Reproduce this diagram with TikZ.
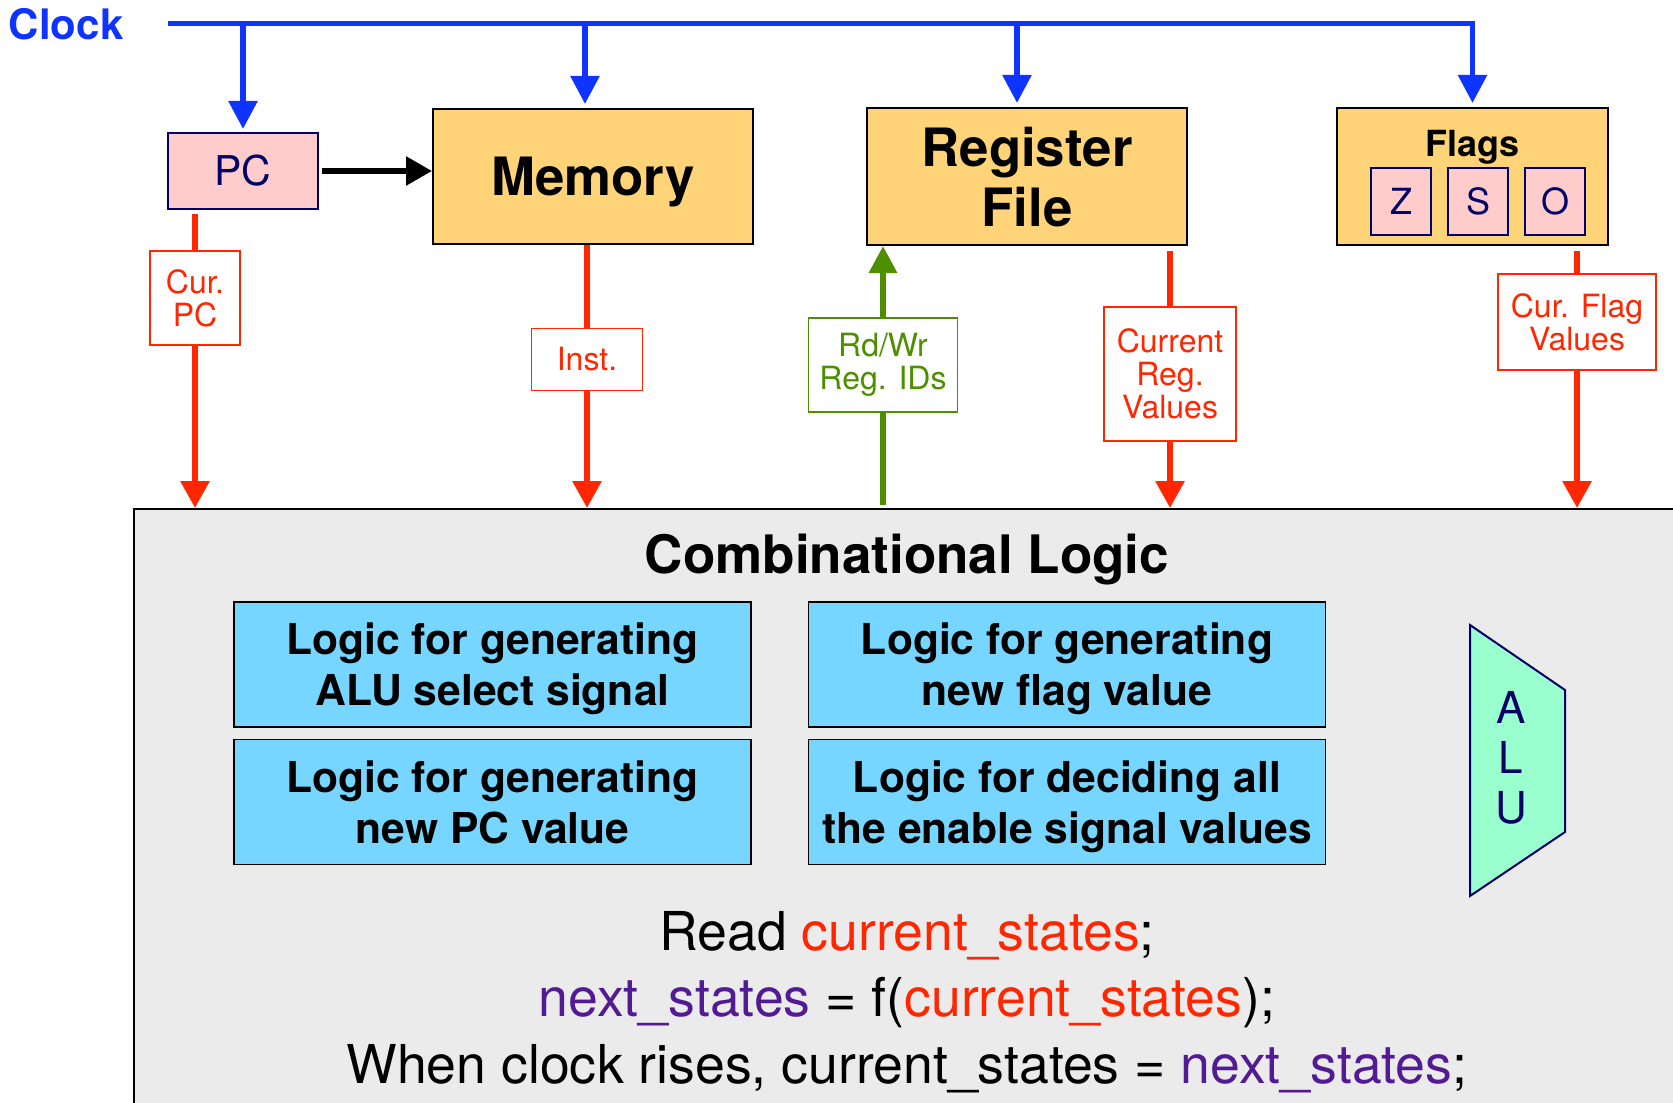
\documentclass[tikz,border=0pt]{standalone}
\usepackage{fontspec}
\setmainfont{TeX Gyre Heros}
\definecolor{clkblue}{RGB}{16,52,255}
\definecolor{sigred}{RGB}{255,38,0}
\definecolor{ctlgreen}{RGB}{78,143,0}
\definecolor{navy}{RGB}{0,0,102}
\definecolor{regpink}{RGB}{255,204,204}
\definecolor{unitorange}{RGB}{255,212,121}
\definecolor{logicblue}{RGB}{118,214,255}
\definecolor{alumint}{RGB}{154,255,206}
\definecolor{combgray}{RGB}{235,235,235}
\definecolor{nextpurple}{RGB}{83,27,147}
\usetikzlibrary{arrows.meta}
\newcommand{\fsz}[2]{\fontsize{#1}{#2}\selectfont}
\newcommand{\curst}{\textcolor{sigred}{current\_states}}
\newcommand{\nextst}{\textcolor{nextpurple}{next\_states}}

\begin{document}
\begin{tikzpicture}[x=0.5pt, y=-0.5pt,
      clk/.style={-{Triangle[width=14pt,length=14pt]}, line width=2.8pt, clkblue},
      wire/.style={line width=3pt, sigred},
      sig/.style={wire, -{Triangle[width=14pt,length=13.5pt]}},
      ctl/.style={-{Triangle[width=13.5pt,length=13.5pt]}, line width=3pt, ctlgreen},
      addr/.style={-{Triangle[width=14pt,length=13pt]}, line width=2.8pt, black},
      regbox/.style={draw=navy, line width=1pt, fill=regpink, text=navy},
      unitbox/.style={draw=black, line width=1pt, fill=unitorange, align=center,
                      text depth=0pt, font=\bfseries\fsz{26.4}{30}},
      sigbox/.style={draw=sigred, line width=0.9pt, fill=white, text=sigred,
                     align=center, inner sep=0pt, font=\fsz{16}{16.5}},
      logicbox/.style={draw=black, line width=0.9pt, fill=logicblue, align=center,
                       text depth=0pt, font=\bfseries\fsz{21.3}{25.5},
                       minimum width=258.5pt, minimum height=62.5pt}
    ]
    \clip (0,0) rectangle (1673,1102);
    \fill[white] (0,0) rectangle (1673,1102);

    % combinational block (runs off the page right and bottom)
    \node[draw=black, line width=0.9pt, fill=combgray, anchor=north west,
          inner sep=0pt, minimum width=783pt, minimum height=311pt] (comb) at (133.4,508) {};
    \node[font=\bfseries\fsz{26.5}{30}] (combtitle) at (907,560) {Combinational Logic};

    \node[logicbox] (selgen)  at (492.5,664.5) {Logic for generating\\ALU select signal};
    \node[logicbox] (flaggen) at (1067,664.5)  {Logic for generating\\new flag value};
    \node[logicbox] (pcgen)   at (492.5,802)   {Logic for generating\\new PC value};
    \node[logicbox] (engen)   at (1067,802)    {Logic for deciding all\\the enable signal values};

    % ALU
    \draw[draw=navy, line width=1pt, fill=alumint]
      (1470,625) -- (1565,690) -- (1565,832) -- (1470,896) -- cycle;
    \node[text=navy, align=center, font=\fsz{22}{25}] (alulbl) at (1511,758) {A\\L\\U};

    \node[anchor=base, font=\fsz{26.8}{33}] (readln) at (907,950) {Read \curst;};
    \node[anchor=base, font=\fsz{26.8}{33}] (nextln) at (907,1016) {\nextst{} = f(\curst);};
    \node[anchor=base, font=\fsz{26.8}{33}] (riseln) at (907,1083)
      {When clock rises, current\_states = \nextst;};

    % state elements
    \node[regbox, minimum width=75pt, minimum height=38pt, font=\fsz{20.5}{24}] (pc) at (243,171) {PC};
    \node[unitbox, minimum width=160pt, minimum height=67.5pt] (mem) at (593,176.5) {Memory};
    \node[unitbox, minimum width=160pt, minimum height=68.5pt] (reg) at (1027,176.5) {Register\\File};
    \node[unitbox, minimum width=135.5pt, minimum height=68.5pt] (flags) at (1472.5,176.5) {};
    \node[font=\bfseries\fsz{18}{20}] (flagslbl) at (1472.5,147) {Flags};
    \foreach \f/\x in {Z/1401, S/1478, O/1555}
      \node[regbox, minimum width=30pt, minimum height=33.5pt, font=\fsz{18}{20}] (flag\f) at (\x,201) {\f};

    % clock
    \node[anchor=west, inner sep=0pt, text=clkblue, font=\bfseries\fsz{21}{25}] (clklbl) at (8.5,24) {Clock};
    \coordinate (clkstart) at (167.5,23.5);
    \coordinate (tapmem) at (585,23.5);
    \coordinate (tapreg) at (1017,23.5);
    \draw[clk, shorten >=2pt] (clkstart) -| (flags.north);
    \draw[clk, shorten >=1.5pt] (pc.north |- clkstart) -- (pc.north);
    \draw[clk, shorten >=2pt] (tapmem) -- (tapmem |- mem.north);
    \draw[clk, shorten >=2pt] (tapreg) -- (tapreg |- reg.north);

    \draw[addr, shorten <=1.5pt] (pc.east) -- (pc.east -| mem.west);

    % signals into the combinational block
    \node[sigbox, minimum width=45pt, minimum height=47pt] (curpc) at (195,298) {Cur.\\PC};
    \node[sigbox, minimum width=55.5pt, minimum height=31pt] (inst) at (587,359.5) {Inst.};
    \node[sigbox, draw=ctlgreen, text=ctlgreen, minimum width=74.5pt, minimum height=47pt] (rdwr) at (883,365) {Rd/Wr\\Reg. IDs};
    \node[sigbox, minimum width=66pt, minimum height=67pt] (curreg) at (1170,374) {Current\\Reg.\\Values};
    \node[sigbox, minimum width=79pt, minimum height=48pt] (curflag) at (1577,322) {Cur. Flag\\Values};

    \draw[wire, shorten <=2pt] (curpc.north |- pc.south) -- (curpc.north);
    \draw[sig] (curpc.south) -- (curpc.south |- comb.north);
    \draw[wire] (inst.north |- mem.south) -- (inst.north);
    \draw[sig] (inst.south) -- (inst.south |- comb.north);
    \draw[ctl] (rdwr.north) -- (rdwr.north |- reg.south);
    \draw[ctlgreen, line width=3pt, shorten <=1.5pt] (rdwr.south |- comb.north) -- (rdwr.south);
    \draw[wire, shorten <=2.5pt] (curreg.north |- reg.south) -- (curreg.north);
    \draw[sig] (curreg.south) -- (curreg.south |- comb.north);
    \draw[wire, shorten <=2.5pt] (curflag.north |- flags.south) -- (curflag.north);
    \draw[sig] (curflag.south) -- (curflag.south |- comb.north);
  \end{tikzpicture}
\end{document}
